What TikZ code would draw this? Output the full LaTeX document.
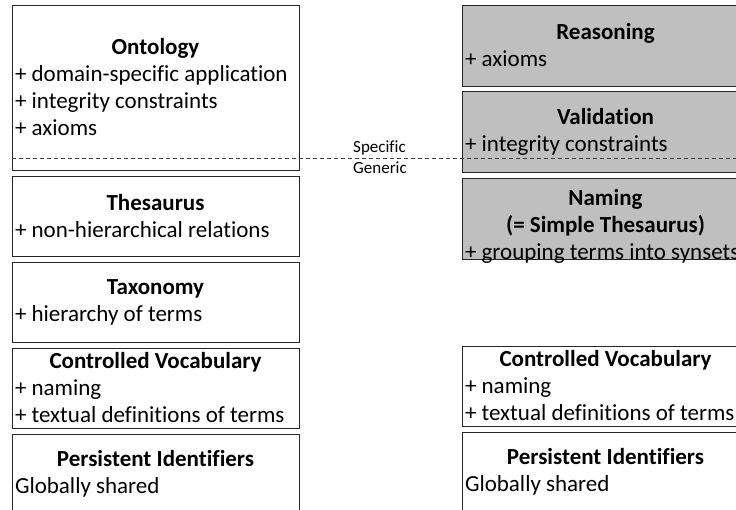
\documentclass[tikz,border=0pt]{standalone}
\usepackage{fontspec}
\setmainfont{Carlito}[Ligatures=NoCommon]
\usetikzlibrary{positioning}

\newcommand{\lvltitle}[1]{\makebox[\linewidth]{\bfseries #1}}

\tikzset{
  level/.style={rectangle, draw=black!85, line width=1pt, minimum width=287pt,
    minimum height=80pt, text width=281pt, inner xsep=3pt, inner ysep=0pt,
    align=flush left, font=\fontsize{23}{27}\selectfont,
    execute at begin node={\spaceskip=0pt\xspaceskip=0pt}},
  usecase/.style={level, fill=black!25},
  sidenote/.style={anchor=west, inner sep=0pt, font=\fontsize{17}{21}\selectfont},
  divider/.style={draw=black!75, line width=0.8pt, dash pattern=on 4pt off 3pt}
}

\begin{document}
\begin{tikzpicture}[node distance=5pt]
\useasboundingbox (0,0) rectangle (736pt,-509pt);
\clip (0,0) rectangle (736pt,-509pt);
% left column: the semantic levels
\node (onto) [level, minimum height=165pt] at (155.5pt,-87.5pt) {\lvltitle{Ontology}\\+ domain-specific application\\+ integrity constraints\\+ axioms};
\node (thes) [level, below=of onto] {\lvltitle{Thesaurus}\\+ non-hierarchical relations};
\node (taxo) [level, below=of thes] {\lvltitle{Taxonomy}\\+ hierarchy of terms};
\node (cv) [level, below=of taxo] {\lvltitle{Controlled Vocabulary}\\+ naming\\+ textual definitions of terms};
\node (pid) [level, below=of cv] {\lvltitle{Persistent Identifiers}\\Globally shared};
% right column: what each level is used for
\node (reas) [usecase, minimum height=81pt] at (605.5pt,-45.5pt) {\lvltitle{Reasoning}\\+ axioms};
\node (vali) [usecase, minimum height=81pt, below=4pt of reas] {\lvltitle{Validation}\\+ integrity constraints};
\node (nami) [usecase, minimum height=81pt, below=of vali] {\lvltitle{Naming}\\\lvltitle{(= Simple Thesaurus)}\\+ grouping terms into synsets\par\kern-16pt};
\node (cvr) [level] at (605.5pt,-386pt) {\lvltitle{Controlled Vocabulary}\\+ naming\\+ textual definitions of terms};
\node (pidr) [level, below=of cvr] {\lvltitle{Persistent Identifiers}\\Globally shared};
% specific / generic split
\coordinate (divl) at (onto.west |- 0,-158pt);
\coordinate (divr) at (736pt,-158pt);
\draw[divider] (divl) -- (divr);
\node (spec) [sidenote] at (353pt,-148pt) {Specific};
\node (gen) [sidenote] at (353pt,-168pt) {Generic};
\end{tikzpicture}
\end{document}
